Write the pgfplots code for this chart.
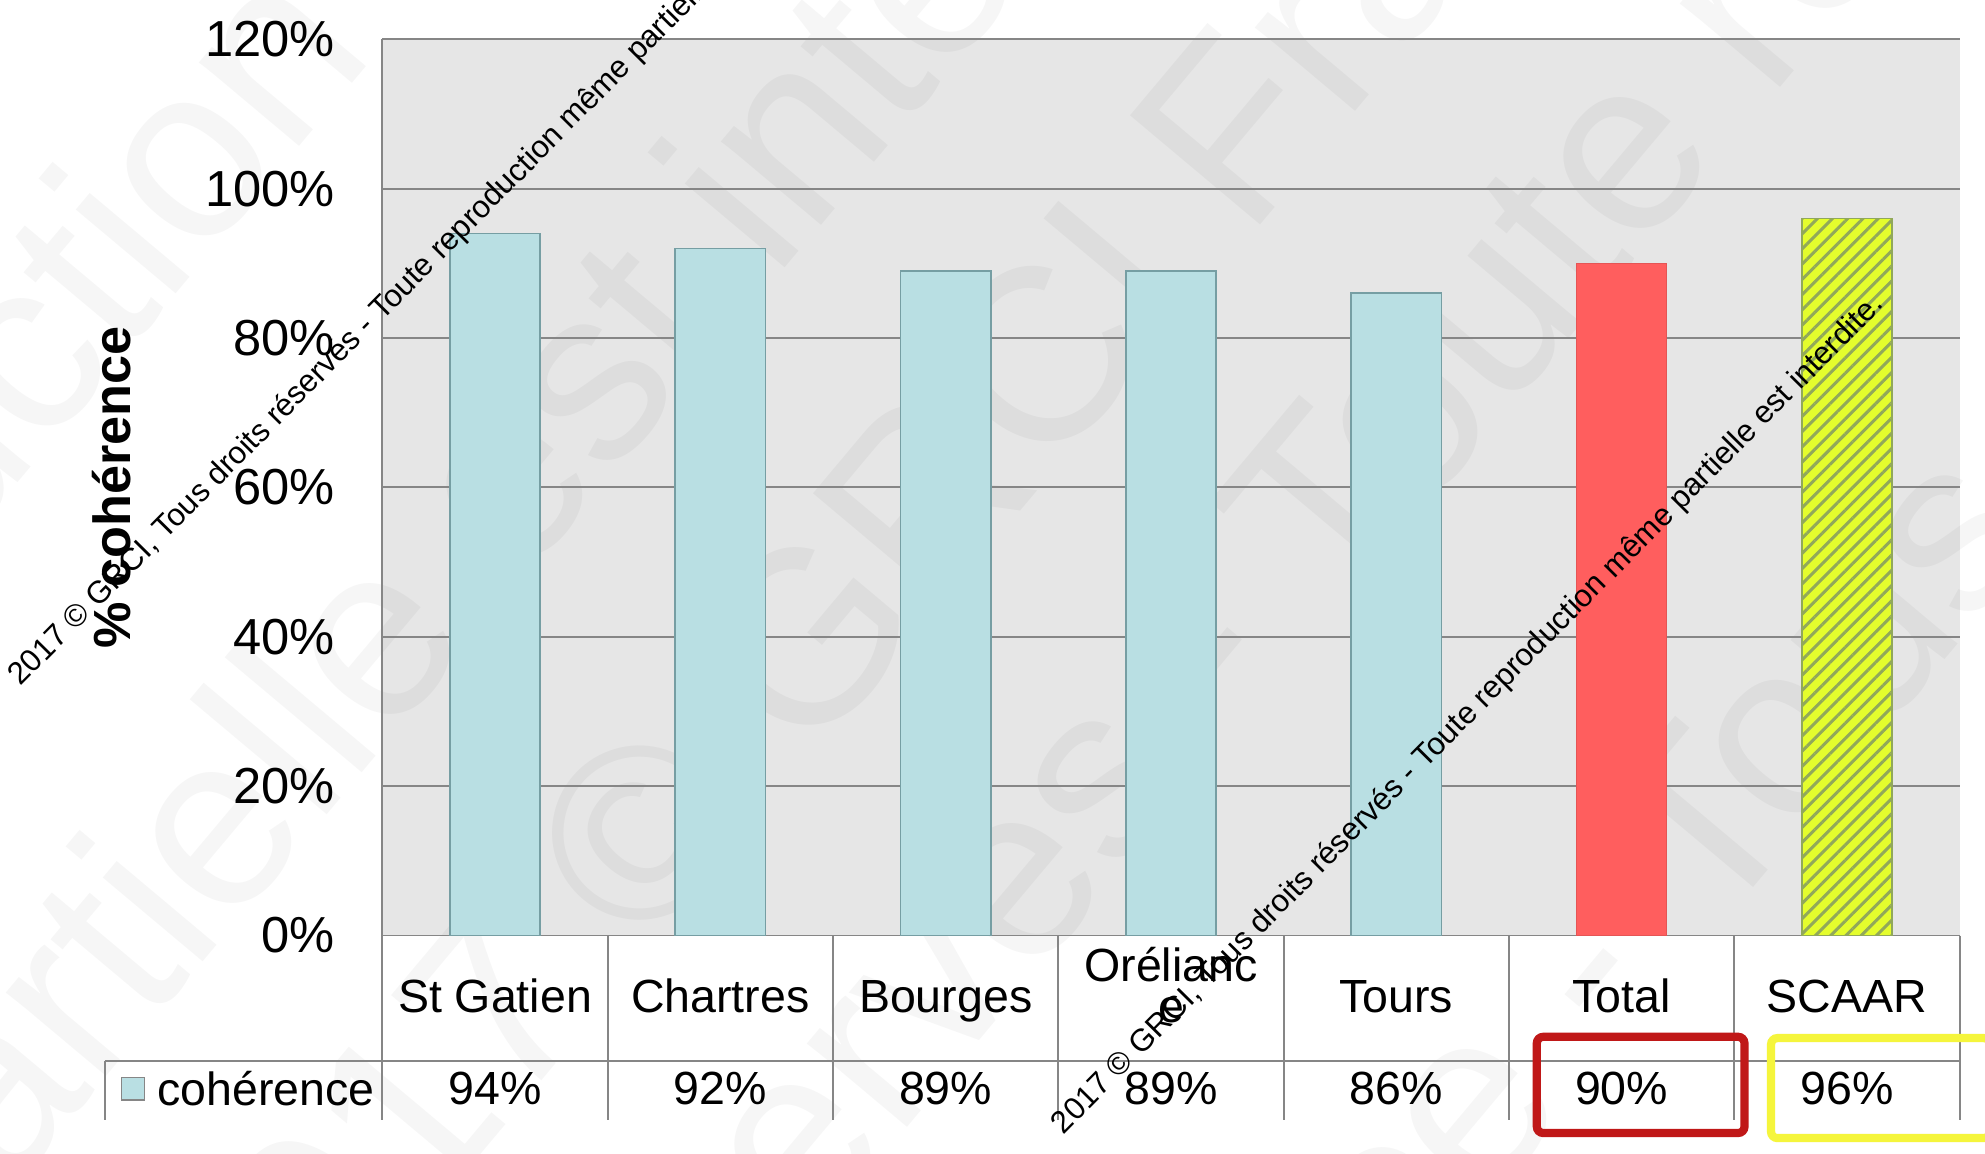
\documentclass[border=0pt]{standalone}
\usepackage{fontspec}
\setmainfont{Liberation Sans}
\usepackage{pgfplots}
\pgfplotsset{compat=1.18}
\usepackage{pgfplotstable}
\usetikzlibrary{patterns.meta}

\definecolor{plotgray}{RGB}{230,230,230}
\definecolor{gridgray}{RGB}{134,134,134}
\definecolor{barteal}{RGB}{185,223,227}
\definecolor{tealedge}{RGB}{118,158,163}
\definecolor{barred}{RGB}{255,94,94}
\definecolor{baryellow}{RGB}{228,253,45}
\definecolor{hatchcol}{RGB}{145,168,90}
\definecolor{boxred}{RGB}{192,24,24}
\definecolor{boxyellow}{RGB}{245,245,60}

% taux de cohérence par site (en %)
\pgfplotstableread{
x v
1 94
2 92
3 89
4 89
5 86
6 90
7 96
}\coherence

\newcommand\tablefont{\fontsize{14.7}{11}\selectfont}

\begin{document}
\begin{tikzpicture}
\path[use as bounding box, fill=white] (-120.8pt,-68.8pt) rectangle (506.4pt,295.6pt);
\clip (-120.8pt,-68.8pt) rectangle (506.4pt,295.6pt);

% fond de la zone de traçage
\fill[plotgray] (0pt,0pt) rectangle (498.4pt,283.2pt);

% filigrane en arrière-plan
\begin{scope}[shift={(-120.8pt,295.6pt)}, x=0.4pt, y=-0.4pt]
  \begin{scope}[every node/.style={rotate=50, inner sep=0pt, text=black, text opacity=0.035,
      font=\fontsize{78}{78}\selectfont}]
    \node at (127,168) {\llap{Toute reprodu}ction\rlap{ même partielle}};
    \node at (455,330) {\llap{même partielle }est\rlap{ interdite}};
    \node at (741,373) {\llap{2017 © }GRCI\rlap{ France - Tous droits}};
    \node at (1170,270) {\llap{Tous droits réservés - }Toute\rlap{ reproduction}};
    \node at (1431,536) {\llap{GRCI France - }Tous\rlap{ droits réservés}};
  \end{scope}
\end{scope}

\begin{axis}[
  at={(0pt,0pt)}, anchor=south west,
  scale only axis, width=498.4pt, height=283.2pt,
  xmin=0.5, xmax=7.5, ymin=0, ymax=120,
  axis y line*=left, axis x line*=bottom,
  axis line style={draw=gridgray, line width=0.6pt},
  ymajorgrids, grid style={draw=gridgray, line width=0.6pt},
  major tick length=0pt,
  ytick={0,20,...,120},
  /pgf/number format/assume math mode=true,
  yticklabel={\pgfmathprintnumber{\tick}\%},
  yticklabel style={font=\fontsize{16}{19}\selectfont, anchor=east, inner sep=0pt, xshift=-14.8pt},
  xtick={1,...,7},
  xticklabels={St Gatien, Chartres, Bourges, {\raisebox{-3.2pt}{\shortstack{Orélianc\\[2pt]e}}}, Tours, Total, SCAAR},
  xticklabel style={font=\tablefont, anchor=base, inner sep=0pt, yshift=-24.4pt},
  clip=false,
]
\addplot[ybar, bar width=28.5pt, fill=barteal, draw=tealedge, line width=0.5pt,
  restrict x to domain=1:5] table[x=x, y=v] {\coherence};
\addplot[ybar, bar width=28.5pt, fill=barred, draw=barred!90!black, line width=0.4pt,
  restrict x to domain=6:6] table[x=x, y=v] {\coherence};
\addplot[ybar, bar width=28.5pt, fill=baryellow, draw=hatchcol, line width=0.5pt,
  postaction={pattern={Lines[angle=45, distance=3.4pt, line width=0.95pt]}, pattern color=hatchcol},
  restrict x to domain=7:7] table[x=x, y=v] {\coherence};
% ligne des valeurs du tableau de données
\addplot[draw=none, mark=none, point meta=explicit,
  nodes near coords={\pgfmathprintnumber{\pgfplotspointmeta}\%},
  nodes near coords style={anchor=center, inner sep=0pt, font=\tablefont}]
  table[x=x, y expr=-20.5, meta=v] {\coherence};
\end{axis}

% grille du tableau de données
\begin{scope}[draw=gridgray, line width=0.6pt]
  \foreach \k in {0,...,7} \draw (\k*71.2pt,0pt) -- (\k*71.2pt,-58.4pt);
  \draw (-87.6pt,-39.6pt) -- (498.4pt,-39.6pt);
  \draw (-87.6pt,-39.6pt) -- (-87.6pt,-58.4pt);
\end{scope}
\draw[fill=barteal, draw=gridgray, line width=0.5pt] (-82.4pt,-44.8pt) rectangle (-75.2pt,-52pt);
\node[anchor=west, inner sep=0pt, font=\tablefont] at (-71.2pt,-48.4pt) {cohérence};

% titre de l'axe vertical
\node[rotate=90, font=\fontsize{16.5}{19}\selectfont\bfseries] at (-85.6pt,141.6pt) {\% cohérence};

% mentions de copyright
\node[rotate=45.3, anchor=base west, inner sep=0pt, font=\fontsize{9.9}{12}\selectfont]
  at (-114.4pt,78.4pt) {2017 © GRCI, Tous droits réservés - Toute reproduction même partielle est interdite.};
\node[rotate=45.3, anchor=base west, inner sep=0pt, font=\fontsize{9.9}{12}\selectfont]
  at (215.2pt,-63.2pt) {2017 © GRCI, Tous droits réservés - Toute reproduction même partielle est interdite.};

% encadrés de mise en évidence
\draw[boxred, line width=2.6pt, rounded corners=2pt] (364.8pt,-32pt) rectangle (430.4pt,-62.4pt);
\draw[boxyellow, line width=2.6pt, rounded corners=2pt] (438.8pt,-32.4pt) rectangle (508pt,-64pt);
\end{tikzpicture}
\end{document}
